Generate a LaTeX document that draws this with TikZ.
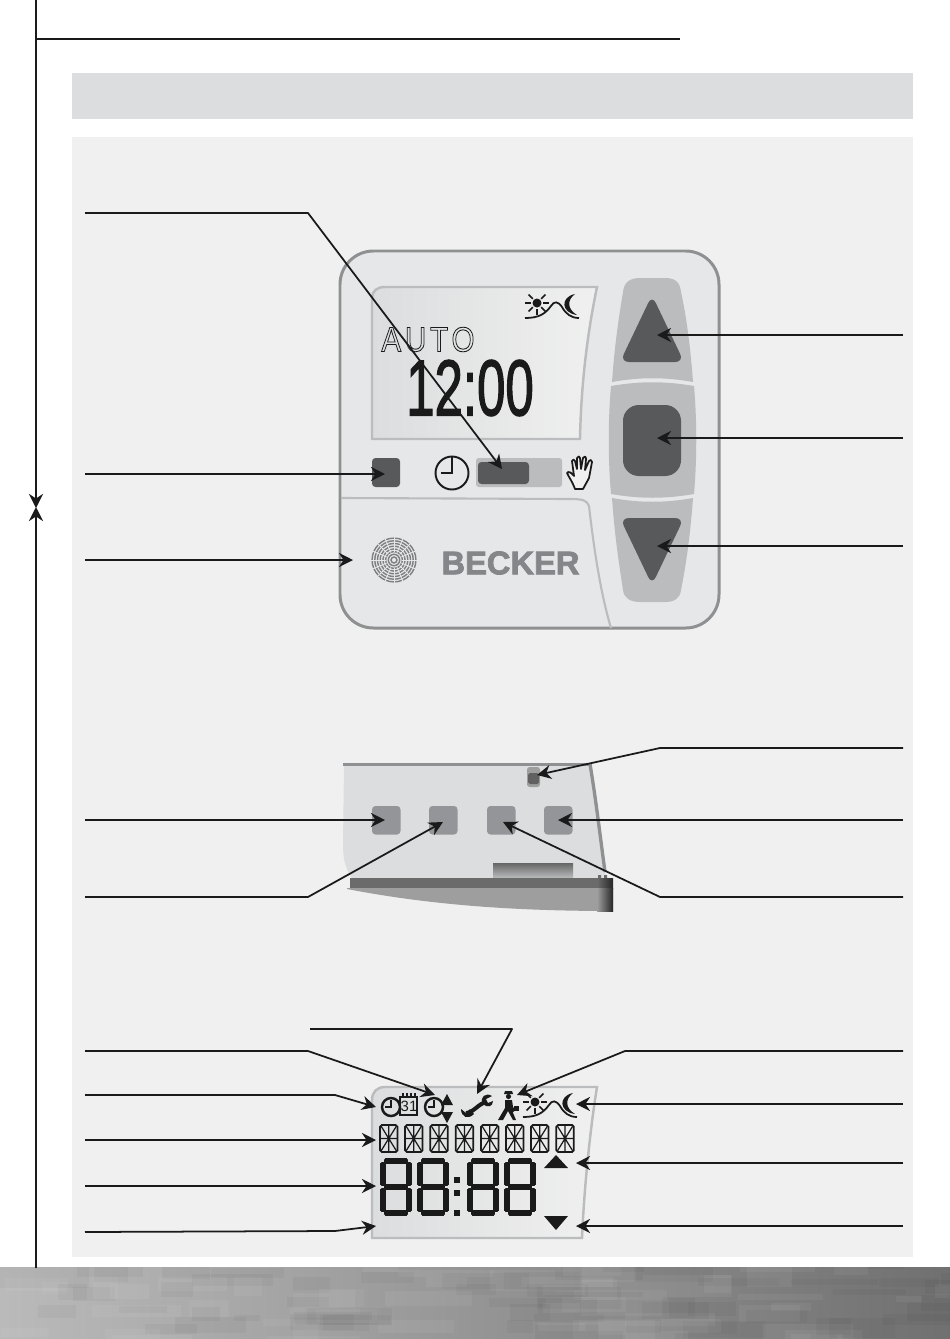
\documentclass[tikz,border=0pt]{standalone}
\usepackage{graphicx}
\usepackage{fontspec}
\setmainfont{Liberation Sans}
\usetikzlibrary{arrows.meta,shapes.geometric,calc}
\definecolor{paneltone}{HTML}{F0F0F0}
\definecolor{bartone}{HTML}{DCDDDE}
\definecolor{bodytone}{HTML}{E6E7E8}
\definecolor{rimtone}{HTML}{8F9092}
\definecolor{keytone}{HTML}{BBBCBE}
\definecolor{darktone}{HTML}{58595B}
\definecolor{midtone}{HTML}{939598}
\definecolor{inktone}{HTML}{1A1A1A}
\tikzset{
    leadline/.style={draw=inktone, line width=1pt, line join=round},
    leadarrow/.style={leadline, -{Stealth[length=8pt,width=8pt]}},
    rimline/.style={draw=rimtone, line width=1.7pt},
    lcdbox/.style={draw=keytone, line width=1.4pt, left color=bartone, right color=paneltone},
    darkkey/.style={fill=darktone, rounded corners=2pt},
    greykey/.style={fill=midtone, rounded corners=2pt},
    softkey/.style={fill=keytone},
    iconline/.style={draw=inktone, line width=0.9pt},
    segline/.style={draw=inktone, line width=3.1pt, line cap=round},
    thinseg/.style={draw=inktone, line width=0.7pt},
    plaintext/.style={inner sep=0pt, text=inktone}
}
\newcommand{\strokedtext}[3]{\special{pdf:code #1 Tr #2 w}#3\special{pdf:code 0 Tr}}
\newcommand{\sunmoon}[2]{%
  \begin{scope}[shift={(#1,#2)}]
    \fill[inktone] (12,11) circle[radius=4.5];
    \foreach \a in {0,45,90,135,180,225,315}
      \draw[iconline] ($(12,11)+(\a:6)$) -- ($(12,11)+(\a:12)$);
    \draw[iconline, line width=1pt] (0,26) .. controls (14,26) and (20,22) .. (26,14)
      .. controls (29,9) and (33,9) .. (37,15) .. controls (41,22) and (46,26) .. (54,26);
    \fill[inktone] (50,2) .. controls (35,5) and (36,21) .. (52,23)
      .. controls (42,17) and (42,8) .. (50,2) -- cycle;
  \end{scope}}
\newcommand{\sevenseg}[2]{%
  \begin{scope}[shift={(#1,#2)}]
    \foreach \ax/\ay/\bx/\by in {7/3/25/3, 7/29/25/29, 7/55/25/55,
        3/7/3/25, 3/33/3/51, 29/7/29/25, 29/33/29/51}
      \draw[segline] (\ax,\ay) -- (\bx,\by);
  \end{scope}}
\newcommand{\starseg}[2]{%
  \begin{scope}[shift={(#1,#2)}]
    \draw[thinseg, line width=1pt, rounded corners=1pt] (0,0) rectangle (17.5,27);
    \draw[thinseg] (0,13.5) -- (17.5,13.5) (8.75,0) -- (8.75,27)
      (1,1) -- (8.75,13.5) -- (16.5,1) (1,26) -- (8.75,13.5) -- (16.5,26);
  \end{scope}}
\begin{document}
\begin{tikzpicture}[x=0.02cm,y=-0.02cm]
\useasboundingbox (0,0) rectangle (950,1339);
\fill[white] (0,0) rectangle (950,1339);

\fill[bartone] (72,73) rectangle (913,119);
\fill[paneltone] (72,137) rectangle (913,1257);

\begin{scope}
  \clip (0,1267) rectangle (950,1339);
  \shade[left color=black!27, right color=black!56] (0,1267) rectangle (950,1339);
  \pgfmathsetseed{11}
  \foreach \i in {1,...,110} {
    \pgfmathsetmacro{\px}{rnd*950}
    \pgfmathsetmacro{\py}{1262+rnd*75}
    \pgfmathsetmacro{\pw}{25+rnd*70}
    \pgfmathsetmacro{\ph}{6+rnd*16}
    \ifodd\i\relax
      \fill[white, opacity=0.05] (\px,\py) rectangle ++(\pw,\ph);
    \else
      \fill[black, opacity=0.03] (\px,\py) rectangle ++(\pw,\ph);
    \fi
  }
\end{scope}

\draw[rimline, fill=bodytone, rounded corners=19pt] (340,251) rectangle (719,628);
\draw[draw=keytone, line width=1.2pt] (341,498) -- (570,499) .. controls (582,499) and (587,500) .. (589,506)
  .. controls (594,550) and (601,595) .. (611,628);

\draw[lcdbox] (372,439) -- (372,298) .. controls (372,291) and (377,287) .. (385,287)
  -- (597,287) .. controls (586,340) and (581,390) .. (580,439) -- cycle;
\sunmoon{525}{292}
\node[plaintext, font=\fontsize{19.8}{20}\selectfont] (autotext) at (428,339.5)
  {\scalebox{.85}[1]{\addfontfeature{LetterSpace=13}\strokedtext{1}{0.5}{AUTO}}};
\node[plaintext, font=\fontsize{45}{46}\selectfont] (timetext) at (470,388)
  {\scalebox{.645}[1]{\strokedtext{2}{0.9}{12:00}}};

\fill[darkkey] (372,458) rectangle (400,487);
\draw[iconline, line width=1.1pt] (452,473) circle[radius=16.5];
\draw[iconline, line width=1.1pt] (452,457) -- (452,473) -- (441,473);
\fill[softkey, rounded corners=1.5pt] (476,458) rectangle (562,487);
\fill[darkkey] (478,462) rectangle (529,484);
\draw[iconline, line width=1pt, fill=paneltone, line join=round] (583,489) -- (575,489) .. controls (572,481) and (570,479) .. (567,473)
  .. controls (568,471) and (571,472) .. (574,476) -- (572,461) .. controls (573,459) and (574,459) .. (575,461)
  -- (577,469) -- (577,458) .. controls (578,456) and (580,456) .. (580,458) -- (581,469)
  -- (583,458) .. controls (584,456) and (586,456) .. (586,459) -- (585,470)
  -- (589,461) .. controls (590,459) and (592,460) .. (592,462) -- (589,478) -- cycle;

\foreach \r in {3,5.7,...,23}
  \draw[midtone!85!black, line width=0.8pt] (394,560) circle[radius=\r];
\foreach \a in {0,22.5,...,337.5}
  \draw[bodytone, line width=0.5pt] ($(394,560)+(\a:8)$) -- ($(394,560)+(\a:23.5)$);
\node[inner sep=0pt, text=midtone!90!black, font=\bfseries\fontsize{18.6}{20}\selectfont] (brand) at (510.5,563)
  {\strokedtext{2}{0.45}{BECKER}};

\fill[softkey] (612,382) .. controls (615,340) and (620,310) .. (623,292)
  .. controls (624,282) and (630,278) .. (640,278) -- (665,278) .. controls (675,278) and (680,282) .. (681,292)
  .. controls (685,310) and (690,340) .. (693,382) .. controls (665,377) and (640,377) .. (612,382) -- cycle;
\fill[softkey] (611,386) .. controls (640,381) and (665,381) .. (694,386)
  .. controls (697,420) and (697,460) .. (694,494) .. controls (665,499) and (640,499) .. (611,494)
  .. controls (608,460) and (608,420) .. (611,386) -- cycle;
\fill[softkey] (612,498) .. controls (640,503) and (665,503) .. (693,498)
  .. controls (690,540) and (685,570) .. (681,590) .. controls (680,598) and (675,602) .. (665,602)
  -- (640,602) .. controls (630,602) and (624,598) .. (623,590) .. controls (620,570) and (615,540) .. (612,498) -- cycle;
\fill[darktone, rounded corners=5pt] (652,295) -- (684,362) -- (620,362) -- cycle;
\fill[darktone, rounded corners=9pt] (623,405) rectangle (681,476);
\fill[darktone, rounded corners=5pt] (652,585) -- (684,518) -- (620,518) -- cycle;

\fill[bartone] (344,765) -- (590,765) .. controls (597,800) and (601,840) .. (606,878)
  -- (352,878) .. controls (346,870) and (343,860) .. (343,845) -- cycle;
\draw[draw=rimtone, line width=1.7pt] (343,764) -- (590,764);
\draw[draw=rimtone, line width=1.9pt] (590,764) .. controls (596,800) and (600,835) .. (605,872);
\foreach \sx in {372,429,487,544}
  \fill[greykey] (\sx,806) rectangle ++(28.5,28.5);
\fill[fill=black!38, rounded corners=1.5pt] (527,767) rectangle (540,787);
\fill[fill=black!62, rounded corners=1pt] (528,773) rectangle (539,784);
\shade[top color=black!60, bottom color=keytone] (493,863) rectangle (573,878);
\fill[black!38] (347,888) -- (613,888) -- (613,911)
  .. controls (500,911) and (420,903) .. (347,889) -- cycle;
\fill[black!58] (350,878) rectangle (613,888);
\fill[black!58] (598,875) rectangle ++(3,3) (604,875) rectangle ++(3,3);
\shade[left color=black!58, right color=black!85] (597,878) rectangle (613,888);
\shade[left color=black!38, right color=black!85] (597,888) rectangle (613,911);

\draw[lcdbox] (372,1238) -- (372,1100) .. controls (372,1092) and (377,1087) .. (385,1087)
  -- (597,1087) .. controls (590,1130) and (584,1190) .. (582,1238) -- cycle;
\draw[iconline, line width=1.4pt] (391,1107) circle[radius=9];
\draw[iconline, line width=1.1pt] (391,1100) -- (391,1107) -- (385,1107);
\draw[iconline] (400,1097) rectangle (417,1115);
\foreach \cx in {403,407,411,415}
  \draw[iconline] (\cx,1093) -- (\cx,1098);
\node[plaintext, font=\fontsize{8.5}{9}\selectfont] (calday) at (409,1106) {31};
\draw[iconline, line width=1.4pt] (434,1107) circle[radius=9];
\draw[iconline, line width=1.1pt] (434,1100) -- (434,1107) -- (428,1107);
\fill[inktone] (447,1094) -- (453,1105) -- (441,1105) -- cycle;
\fill[inktone] (447,1123) -- (453,1112) -- (441,1112) -- cycle;
\draw[inktone, line width=2.3pt] (466,1113) .. controls (473,1113) and (478,1104) .. (486,1102);
\fill[inktone] (461,1109) .. controls (461,1117) and (468,1120) .. (474,1114) -- (470,1109) -- (466,1113) -- cycle;
\fill[inktone] (492,1096) .. controls (486,1092) and (479,1097) .. (483,1104)
  .. controls (487,1108) and (493,1107) .. (493,1101) -- (488,1103) -- (486,1099) -- cycle;
\fill[inktone] (505,1091) -- (512,1091) -- (513,1094) -- (504,1094) -- cycle;
\fill[inktone] (508.5,1096.5) circle[radius=2.6];
\fill[inktone] (505,1100) -- (512,1100) -- (513,1107) -- (516,1110) -- (513,1112) -- (511,1108)
  -- (516,1120) -- (513,1120) -- (508,1111) -- (503,1120) -- (498,1120) -- (505,1108) -- cycle;
\fill[inktone] (514,1106) rectangle (519,1111);
\sunmoon{523}{1091}

\foreach \gx in {380,405,430.3,455.7,481,506,531,556.3}
  \starseg{\gx}{1125}
\sevenseg{380}{1158}
\sevenseg{417}{1158}
\sevenseg{467}{1158}
\sevenseg{504}{1158}
\foreach \cy in {1180,1193,1213}
  \fill[inktone] (454,\cy-3) rectangle ++(6,6);
\fill[inktone] (556,1155) -- (568,1168) -- (544,1168) -- cycle;
\fill[inktone] (556,1230) -- (568,1216) -- (544,1216) -- cycle;

\coordinate (railtop) at (36,0);
\coordinate (raildown) at (36,508);
\coordinate (railup) at (36,507);
\coordinate (railend) at (36,1268);
\coordinate (ruleend) at (680,39);
\coordinate (rulestart) at (36,39);
\draw[leadarrow] (railtop) -- (raildown);
\draw[leadarrow] (railend) -- (railup);
\draw[leadline] (rulestart) -- (ruleend);

\coordinate (slidetip) at (502,469);
\coordinate (slidebend) at (308,213);
\coordinate (slidefree) at (85,213);
\draw[leadarrow] (slidefree) -- (slidebend) -- (slidetip);
\foreach \fy/\tx/\ty [count=\n] in {335/657/335, 438/657/438, 546/657/546,
    820/558/820, 1104/576/1104, 1163/576/1163, 1226/576/1226} {
  \coordinate (rightfree\n) at (903,\fy);
  \coordinate (righttip\n) at (\tx,\ty);
  \draw[leadarrow] (rightfree\n) -- (righttip\n);
}
\foreach \fy/\tx/\ty [count=\n] in {474/385/474, 560/353/560, 820/385/820, 1140/376/1140, 1186/376/1186} {
  \coordinate (leftfree\n) at (85,\fy);
  \coordinate (lefttip\n) at (\tx,\ty);
  \draw[leadarrow] (leftfree\n) -- (lefttip\n);
}

\coordinate (switchfree) at (903,748);
\coordinate (switchbend) at (660,748);
\coordinate (switchtip) at (537,775);
\draw[leadarrow] (switchfree) -- (switchbend) -- (switchtip);
\coordinate (keytwofree) at (85,897);
\coordinate (keytwobend) at (308,897);
\coordinate (keytwotip) at (443,822);
\draw[leadarrow] (keytwofree) -- (keytwobend) -- (keytwotip);
\coordinate (keythreefree) at (903,897);
\coordinate (keythreebend) at (660,897);
\coordinate (keythreetip) at (503,822);
\draw[leadarrow] (keythreefree) -- (keythreebend) -- (keythreetip);

\coordinate (timerfree) at (85,1051);
\coordinate (timerbend) at (308,1051);
\coordinate (timertip) at (435,1095);
\draw[leadarrow] (timerfree) -- (timerbend) -- (timertip);
\coordinate (toolfree) at (310,1029);
\coordinate (toolbend) at (512,1029);
\coordinate (tooltip) at (477,1094);
\draw[leadarrow] (toolfree) -- (toolbend) -- (tooltip);
\coordinate (clockfree) at (85,1095);
\coordinate (clockbend) at (335,1095);
\coordinate (clocktip) at (376,1107);
\draw[leadarrow] (clockfree) -- (clockbend) -- (clocktip);
\coordinate (lowfree) at (85,1232);
\coordinate (lowbend) at (335,1231);
\coordinate (lowtip) at (376,1226);
\draw[leadarrow] (lowfree) -- (lowbend) -- (lowtip);
\coordinate (walkfree) at (903,1051);
\coordinate (walkbend) at (625,1051);
\coordinate (walktip) at (517,1095);
\draw[leadarrow] (walkfree) -- (walkbend) -- (walktip);
\end{tikzpicture}
\end{document}
